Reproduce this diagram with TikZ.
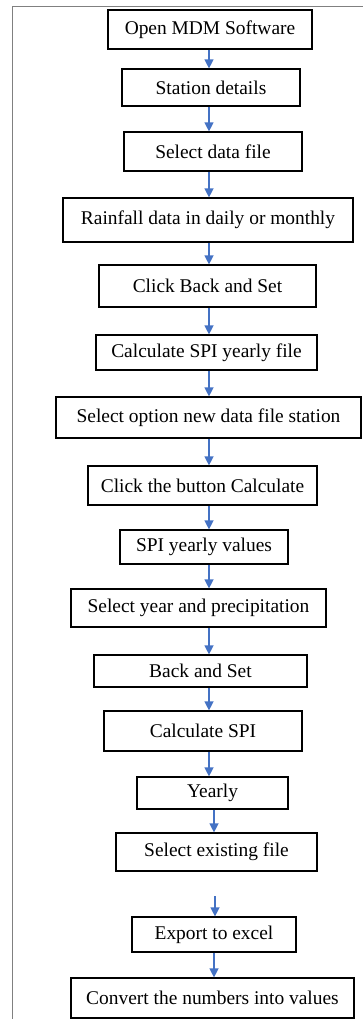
\documentclass[tikz,border=0pt]{standalone}
\usepackage{fontspec}
\setmainfont{Liberation Serif}
\usetikzlibrary{arrows.meta}
\definecolor{bleu}{HTML}{4472C4}
\begin{document}
\begin{tikzpicture}[x=1bp, y=-1bp,
    boite/.style={draw, line width=1.2bp, inner sep=0pt, font=\fontsize{19.5}{22}\selectfont},
    fleche/.style={draw=bleu, line width=1.3bp, -{Triangle[length=9bp, width=9bp, fill=bleu]}}]
                \useasboundingbox (0,0) rectangle (363,1019);
                % Cadre autour de la figure
                \draw[gray, line width=1bp] (12,1019) -- (12,6.5) -- (363,6.5);

                % Déclaration des étapes (centre, largeur et hauteur en pixels)
                \node[boite, minimum width=204bp, minimum height=39bp] (1) at (210, 29.5) {Open MDM Software};
                \node[boite, minimum width=178bp, minimum height=37bp] (2) at (211, 87.5) {Station details};
                \node[boite, minimum width=178bp, minimum height=39bp] (3) at (213, 151.5) {Select data file};
                \node[boite, minimum width=290bp, minimum height=44bp] (4) at (208, 220) {Rainfall data in daily or monthly};
                \node[boite, minimum width=217bp, minimum height=42bp] (5) at (207.5, 286) {Click Back and Set};
                \node[boite, minimum width=221bp, minimum height=35bp] (6) at (206.5, 352.5) {Calculate SPI yearly file};
                \node[boite, minimum width=305bp, minimum height=41bp] (7) at (208.5, 417.5) {Select option new data file station};
                \node[boite, minimum width=229bp, minimum height=39bp] (8) at (202.5, 485.5) {Click the button Calculate};
                \node[boite, minimum width=168bp, minimum height=34bp] (9) at (204, 547) {SPI yearly values};
                \node[boite, minimum width=255bp, minimum height=38bp] (10) at (198.5, 608) {Select year and precipitation};
                \node[boite, minimum width=213bp, minimum height=32bp] (11) at (200.5, 671) {Back and Set};
                \node[boite, minimum width=198bp, minimum height=40bp] (12) at (203, 731) {Calculate SPI};
                \node[boite, minimum width=151bp, minimum height=32bp] (13) at (212.5, 793) {Yearly};
                \node[boite, minimum width=201bp, minimum height=38bp] (14) at (216.5, 852) {Select existing file};
                \node[boite, minimum width=164bp, minimum height=35bp] (15) at (214, 934.5) {Export to excel};
                \node[boite, minimum width=283bp, minimum height=40bp] (16) at (212.5, 998) {Convert the numbers into values};

                % Axes verticaux des flèches
                \coordinate (axe) at (209, 0);
                \coordinate (axeb) at (214, 0);
                \coordinate (depart) at (215, 896);

                % Ajout des flèches entre les étapes
                \draw[fleche] (axe |- 1.south) -- (axe |- 2.north);
                \draw[fleche] (axe |- 2.south) -- (axe |- 3.north);
                \draw[fleche] (axe |- 3.south) -- (axe |- 4.north);
                \draw[fleche] (axe |- 4.south) -- (axe |- 5.north);
                \draw[fleche] (axe |- 5.south) -- (axe |- 6.north);
                \draw[fleche] (axe |- 6.south) -- (axe |- 7.north);
                \draw[fleche] (axe |- 7.south) -- (axe |- 8.north);
                \draw[fleche] (axe |- 8.south) -- (axe |- 9.north);
                \draw[fleche] (axe |- 9.south) -- (axe |- 10.north);
                \draw[fleche] (axe |- 10.south) -- (axe |- 11.north);
                \draw[fleche] (axe |- 11.south) -- (axe |- 12.north);
                \draw[fleche] (axe |- 12.south) -- (axe |- 13.north);
                \draw[fleche] (axeb |- 13.south) -- (axeb |- 14.north);
                \draw[fleche] (depart) -- (depart |- 15.north);
                \draw[fleche] (axeb |- 15.south) -- (axeb |- 16.north);
            \end{tikzpicture}
\end{document}
